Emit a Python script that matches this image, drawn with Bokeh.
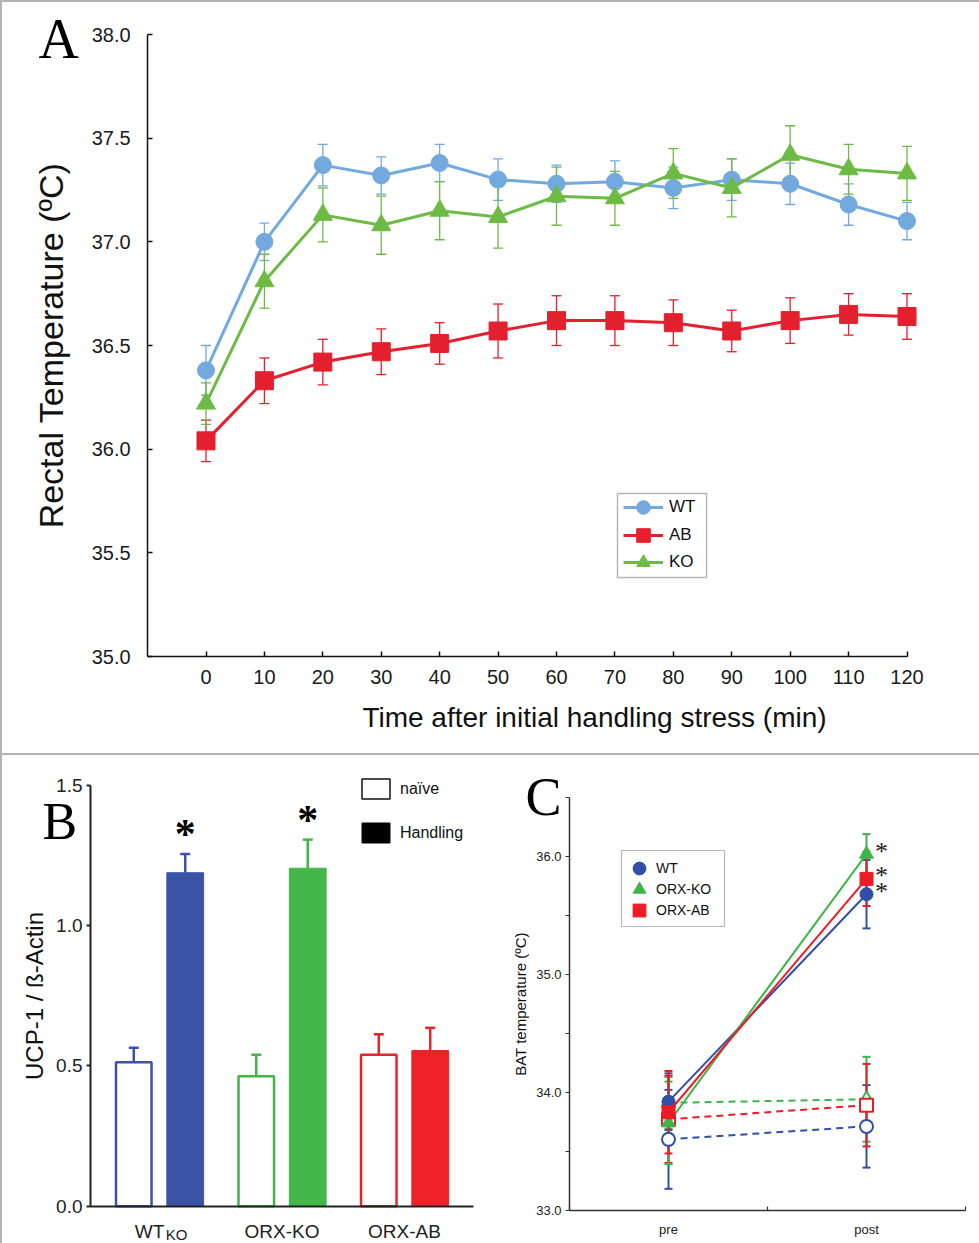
import numpy as np
from bokeh.plotting import figure
from bokeh.layouts import column, row
from bokeh.models import (Range1d, FixedTicker, NumeralTickFormatter, Whisker, TeeHead,
                          ColumnDataSource, Legend, LegendItem, Label, BoxAnnotation)
from bokeh.core.properties import value
from bokeh.embed import file_html
from bokeh.resources import INLINE

# ---------------- Panel A data ----------------
time_min = [0, 10, 20, 30, 40, 50, 60, 70, 80, 90, 100, 110, 120]
a_yticks = [35.0, 35.5, 36.0, 36.5, 37.0, 37.5, 38.0]
wt_temp = [36.38, 37.00, 37.37, 37.32, 37.38, 37.30, 37.28, 37.29, 37.26, 37.30, 37.28, 37.18, 37.10]
wt_err = [0.12, 0.09, 0.10, 0.09, 0.09, 0.10, 0.09, 0.10, 0.10, 0.10, 0.10, 0.10, 0.09]
ab_temp = [36.04, 36.33, 36.42, 36.47, 36.51, 36.57, 36.62, 36.62, 36.61, 36.57, 36.62, 36.65, 36.64]
ab_err = [0.10, 0.11, 0.11, 0.11, 0.10, 0.13, 0.12, 0.12, 0.11, 0.10, 0.11, 0.10, 0.11]
ko_temp = [36.22, 36.81, 37.13, 37.08, 37.15, 37.12, 37.22, 37.21, 37.33, 37.26, 37.42, 37.35, 37.33]
ko_err = [0.10, 0.13, 0.13, 0.14, 0.14, 0.15, 0.14, 0.13, 0.12, 0.14, 0.14, 0.12, 0.13]
a_names = ["WT", "AB", "KO"]

# ---------------- Panel B data ----------------
b_groups = ["WT", "ORX-KO", "ORX-AB"]
b_subs = ["KO", "", ""]
b_naive = [0.513, 0.463, 0.540]
b_naive_err = [0.052, 0.077, 0.073]
b_handling = [1.189, 1.205, 0.555]
b_handling_err = [0.067, 0.102, 0.081]
b_sig = ["*", "*", ""]
b_yticks = [0.0, 0.5, 1.0, 1.5]

# ---------------- Panel C data ----------------
c_groups = ["WT", "ORX-KO", "ORX-AB"]
c_phases = ["pre", "post"]
c_hand_pre = [33.92, 33.74, 33.83]
c_hand_pre_err = [0.24, 0.35, 0.35]
c_hand_post = [35.68, 36.02, 35.81]
c_hand_post_err = [0.29, 0.17, 0.23]
c_naive_pre = [33.60, 33.91, 33.77]
c_naive_pre_err = [0.42, 0.22, 0.37]
c_naive_post = [33.71, 33.94, 33.89]
c_naive_post_err = [0.35, 0.36, 0.35]
c_sig = ["*", "*", "*"]
c_ymajor = [33.0, 34.0, 35.0, 36.0]
c_yminor = [33.5, 34.5, 35.5, 36.5]

SANS = "Liberation Sans"
SERIF = "Liberation Serif"
BORDER = "#b4b4b4"


def span_range(v0, p0, v1, p1, size, from_top=False):
    """Range covering the whole canvas, given two value/pixel anchor pairs."""
    k = (v1 - v0) / (p1 - p0)
    a = v0 - p0 * k
    b = v0 + (size - p0) * k
    return Range1d(b, a) if from_top else Range1d(a, b)


def base_fig(w, h, xr, yr):
    p = figure(width=w, height=h, x_range=xr, y_range=yr, output_backend="svg",
               toolbar_location=None, min_border=0,
               background_fill_color=None, border_fill_color=None)
    p.grid.visible = False
    p.outline_line_color = None
    return p


# ======================= Panel A =======================
WA, HA = 979, 755
pA = base_fig(WA, HA, span_range(0, 205.5, 120, 906.5, WA),
              span_range(38, 34, 35, 656, HA, from_top=True))
pA.styles = {"box-shadow": f"inset 2px 2px 0 0 {BORDER}, inset 0 -2px 0 0 {BORDER}"}
for ax in (pA.xaxis[0], pA.yaxis[0]):
    ax.axis_line_color = "#111111"
    ax.axis_line_width = 1.5
    ax.major_tick_line_color = "#111111"
    ax.major_tick_line_width = 1.5
    ax.major_tick_in = 5
    ax.major_tick_out = 0
    ax.minor_tick_line_color = None
    ax.major_label_text_font = SANS
    ax.major_label_text_font_size = "20px"
    ax.major_label_text_color = "#1a1a1a"
pA.xaxis.fixed_location = 35
pA.xaxis.bounds = (-10, 120)
pA.xaxis.ticker = FixedTicker(ticks=time_min)
pA.xaxis.major_label_standoff = 13
pA.yaxis.fixed_location = -10
pA.yaxis.bounds = (35, 38)
pA.yaxis.ticker = FixedTicker(ticks=a_yticks)
pA.yaxis.formatter = NumeralTickFormatter(format="0.0")
pA.yaxis.major_label_standoff = 17
pA.yaxis.axis_label = "Rectal Temperature (ºC)"
pA.yaxis.axis_label_text_font = SANS
pA.yaxis.axis_label_text_font_style = "normal"
pA.yaxis.axis_label_text_font_size = "34px"
pA.yaxis.axis_label_text_color = "#111111"
pA.yaxis.axis_label_standoff = 19

a_series = [
    (wt_temp, wt_err, "#72a9de", "circle", 17),
    (ab_temp, ab_err, "#e5202e", "square", 18),
    (ko_temp, ko_err, "#6dbb45", "triangle", 19),
]
legA_items = []
for name, (yv, ev, col, mk, sz) in zip(a_names, a_series):
    src = ColumnDataSource(dict(x=time_min, y=yv,
                                upper=[a + b for a, b in zip(yv, ev)],
                                lower=[a - b for a, b in zip(yv, ev)]))
    pA.add_layout(Whisker(source=src, base="x", upper="upper", lower="lower",
                          line_color=col, line_width=1.3, level="underlay",
                          upper_head=TeeHead(size=10, line_color=col, line_width=1.3),
                          lower_head=TeeHead(size=10, line_color=col, line_width=1.3)))
    ln = pA.line("x", "y", source=src, line_color=col, line_width=3)
    sc = pA.scatter("x", "y", source=src, marker=mk, size=sz, fill_color=col, line_color=col)
    legA_items.append(LegendItem(label=name, renderers=[ln, sc]))

# legend frame + one legend per entry (keeps markers large with tight rows)
pA.add_layout(BoxAnnotation(left=617, right=706, top=HA - 493, bottom=HA - 577,
                            left_units="screen", right_units="screen",
                            top_units="screen", bottom_units="screen",
                            fill_color="white", fill_alpha=1.0,
                            line_color="#111111", line_width=1.5))
for item, cy in zip(legA_items, [507, 535, 562]):
    pA.add_layout(Legend(items=[item], location=(623, HA - cy - 17),
                         padding=0, margin=0, glyph_width=40, glyph_height=34,
                         label_height=34, label_standoff=6, border_line_color=None,
                         background_fill_alpha=0, label_text_font=SANS,
                         label_text_font_size="17px", label_text_color="#111111"))

pA.add_layout(Label(x=594, y=HA - 717, x_units="screen", y_units="screen",
                    text="Time after initial handling stress (min)",
                    text_align="center", text_baseline="middle",
                    text_font=SANS, text_font_size="28px", text_color="#111111"))
pA.add_layout(Label(x=38, y=HA - 38, x_units="screen", y_units="screen", text="A",
                    text_align="left", text_baseline="middle",
                    text_font=SERIF, text_font_size="56px", text_color="black"))

# ======================= Panel B =======================
WB, HB = 500, 488
b_colors = ["#3a53a4", "#42b649", "#ec2227"]
xg = np.arange(len(b_groups), dtype=float)
naive_x = xg - 0.21
hand_x = xg + 0.21
b_left = (90 - 159) / 122.5
b_right = (473 - 159) / 122.5

pB = base_fig(WB, HB, span_range(0, 159, 1, 281.5, WB),
              span_range(1.5, 30, 0, 450.7, HB, from_top=True))
pB.styles = {"box-shadow": f"inset 2px 0 0 0 {BORDER}"}
for ax in (pB.xaxis[0], pB.yaxis[0]):
    ax.axis_line_color = "#222222"
    ax.axis_line_width = 2
    ax.minor_tick_line_color = None
pB.xaxis.fixed_location = 0
pB.xaxis.bounds = (b_left, b_right)
pB.xaxis.ticker = FixedTicker(ticks=[])
pB.xaxis.major_tick_out = 0
pB.xaxis.major_tick_in = 0
pB.yaxis.fixed_location = b_left
pB.yaxis.bounds = (0, 1.5)
pB.yaxis.ticker = FixedTicker(ticks=b_yticks)
pB.yaxis.formatter = NumeralTickFormatter(format="0.0")
pB.yaxis.major_tick_in = 0
pB.yaxis.major_tick_out = 4
pB.yaxis.major_tick_line_width = 2
pB.yaxis.major_tick_line_color = "#222222"
pB.yaxis.major_label_standoff = 4
pB.yaxis.major_label_text_font = SANS
pB.yaxis.major_label_text_font_size = "19px"
pB.yaxis.major_label_text_color = "#222222"
pB.yaxis.axis_label = "UCP-1 / ß-Actin"
pB.yaxis.axis_label_text_font = SANS
pB.yaxis.axis_label_text_font_style = "normal"
pB.yaxis.axis_label_text_font_size = "24px"
pB.yaxis.axis_label_text_color = "#111111"
pB.yaxis.axis_label_standoff = 5

srcB = ColumnDataSource(dict(
    nx=naive_x, hx=hand_x, naive=b_naive, hand=b_handling, color=b_colors,
    nup=[a + b for a, b in zip(b_naive, b_naive_err)],
    hup=[a + b for a, b in zip(b_handling, b_handling_err)],
))
pB.vbar(x="nx", top="naive", bottom=0, width=0.29, source=srcB,
        fill_color="white", line_color="color", line_width=2.5)
pB.vbar(x="hx", top="hand", bottom=0, width=0.30, source=srcB,
        fill_color="color", line_color="color", line_width=1)
for base, lo, hi in (("nx", "naive", "nup"), ("hx", "hand", "hup")):
    pB.add_layout(Whisker(source=srcB, base=base, lower=lo, upper=hi,
                          line_color={"field": "color"}, line_width=2.5,
                          lower_head=None,
                          upper_head=TeeHead(size=10, line_color={"field": "color"}, line_width=2.5)))

srcBs = ColumnDataSource(dict(x=hand_x, y=srcB.data["hup"], t=b_sig))
pB.text(x="x", y="y", text="t", source=srcBs, text_align="center", text_baseline="middle",
        y_offset=-20, text_font=value(SERIF), text_font_style="bold", text_font_size="42px",
        text_color="black")

# category labels below the baseline (WT carries a "KO" subscript)
srcBl = ColumnDataSource(dict(x=xg, y=[0.0] * len(xg), t=b_groups,
                              dx=[-10 if s else 0 for s in b_subs]))
pB.text(x="x", y="y", text="t", source=srcBl, x_offset="dx", y_offset=25,
        text_align="center", text_baseline="alphabetic", text_font=value(SANS),
        text_font_size="19px", text_color="#222222")
sub_idx = [i for i, s in enumerate(b_subs) if s]
srcBsub = ColumnDataSource(dict(x=[xg[i] for i in sub_idx], y=[0.0] * len(sub_idx),
                                t=[b_subs[i] for i in sub_idx]))
pB.text(x="x", y="y", text="t", source=srcBsub, x_offset=17, y_offset=28,
        text_align="center", text_baseline="alphabetic", text_font=value(SANS),
        text_font_size="15px", text_color="#222222")

r_naive_proxy = pB.vbar(x=[np.nan], top=[np.nan], width=0.3, fill_color="white",
                        line_color="#111111", line_width=1.5)
r_hand_proxy = pB.vbar(x=[np.nan], top=[np.nan], width=0.3, fill_color="black",
                       line_color="black")
pB.add_layout(Legend(items=[LegendItem(label="naïve", renderers=[r_naive_proxy]),
                            LegendItem(label="Handling", renderers=[r_hand_proxy])],
                     location=(358, HB - (845 - 755)), glyph_width=35, glyph_height=25,
                     label_height=25, spacing=19, padding=0, margin=0,
                     border_line_color=None, background_fill_alpha=0, label_standoff=7,
                     label_text_font=SANS, label_text_font_size="16px",
                     label_text_color="#111111"))

pB.add_layout(Label(x=42, y=HB - (821 - 755), x_units="screen", y_units="screen", text="B",
                    text_align="left", text_baseline="middle",
                    text_font=SERIF, text_font_size="52px", text_color="black"))

# ======================= Panel C =======================
WC, HC = 479, 488
c_colors = ["#3050a8", "#3cb54a", "#ed1c24"]
c_markers = ["circle", "triangle", "square"]
c_sizes = [13, 14, 13]
phase_x = [1, 3]

pC = base_fig(WC, HC, span_range(1, 168, 3, 366, WC),
              span_range(36, 101, 34, 336.7, HC, from_top=True))
for ax in (pC.xaxis[0], pC.yaxis[0]):
    ax.axis_line_color = "#333333"
    ax.axis_line_width = 1.5
    ax.major_tick_line_color = "#333333"
    ax.minor_tick_line_color = "#333333"
    ax.major_tick_line_width = 1.2
    ax.minor_tick_line_width = 1.2
    ax.major_label_text_font = SANS
    ax.major_label_text_font_size = "13px"
    ax.major_label_text_color = "#222222"
pC.yaxis.fixed_location = 0
pC.yaxis.bounds = (33, 36.5)
pC.yaxis.ticker = FixedTicker(ticks=c_ymajor, minor_ticks=c_yminor)
pC.yaxis.formatter = NumeralTickFormatter(format="0.0")
pC.yaxis.major_tick_in = 0
pC.yaxis.major_tick_out = 4
pC.yaxis.minor_tick_in = 0
pC.yaxis.minor_tick_out = 4
pC.yaxis.major_label_standoff = 4
pC.yaxis.axis_label = "BAT temperature (ºC)"
pC.yaxis.axis_label_text_font = SANS
pC.yaxis.axis_label_text_font_style = "normal"
pC.yaxis.axis_label_text_font_size = "15px"
pC.yaxis.axis_label_text_color = "#111111"
pC.yaxis.axis_label_standoff = 4
pC.xaxis.fixed_location = 33
pC.xaxis.bounds = (0, 4)
pC.xaxis.ticker = FixedTicker(ticks=phase_x, minor_ticks=[0, 2, 4])
pC.xaxis.major_label_overrides = {phase_x[0]: c_phases[0], phase_x[1]: c_phases[1]}
pC.xaxis.major_tick_in = 0
pC.xaxis.major_tick_out = 0
pC.xaxis.minor_tick_in = 4
pC.xaxis.minor_tick_out = 0
pC.xaxis.major_label_standoff = 12

legC_items = []
# naive (dashed, open markers)
for i in range(len(c_groups)):
    col = c_colors[i]
    y = [c_naive_pre[i], c_naive_post[i]]
    e = [c_naive_pre_err[i], c_naive_post_err[i]]
    src = ColumnDataSource(dict(x=phase_x, y=y, upper=[a + b for a, b in zip(y, e)],
                                lower=[a - b for a, b in zip(y, e)]))
    pC.add_layout(Whisker(source=src, base="x", upper="upper", lower="lower",
                          line_color=col, line_width=2, level="underlay",
                          upper_head=TeeHead(size=8, line_color=col, line_width=2),
                          lower_head=TeeHead(size=8, line_color=col, line_width=2)))
    pC.line("x", "y", source=src, line_color=col, line_width=2, line_dash="7 5")
    pC.scatter("x", "y", source=src, marker=c_markers[i], size=c_sizes[i],
               fill_color="white", line_color=col, line_width=2)
# handling (solid, filled markers)
for i in range(len(c_groups)):
    col = c_colors[i]
    y = [c_hand_pre[i], c_hand_post[i]]
    e = [c_hand_pre_err[i], c_hand_post_err[i]]
    src = ColumnDataSource(dict(x=phase_x, y=y, upper=[a + b for a, b in zip(y, e)],
                                lower=[a - b for a, b in zip(y, e)]))
    pC.add_layout(Whisker(source=src, base="x", upper="upper", lower="lower",
                          line_color=col, line_width=2, level="underlay",
                          upper_head=TeeHead(size=8, line_color=col, line_width=2),
                          lower_head=TeeHead(size=8, line_color=col, line_width=2)))
    pC.line("x", "y", source=src, line_color=col, line_width=2)
    sc = pC.scatter("x", "y", source=src, marker=c_markers[i], size=c_sizes[i],
                    fill_color=col, line_color=col)
    legC_items.append(LegendItem(label=c_groups[i], renderers=[sc]))

srcCs = ColumnDataSource(dict(x=[phase_x[1]] * len(c_groups), y=c_hand_post, t=c_sig))
pC.text(x="x", y="y", text="t", source=srcCs, text_align="center", text_baseline="middle",
        x_offset=15, y_offset=-3, text_font=value(SERIF), text_font_size="26px",
        text_color="#222222")

OX, OY = 500, 755  # panel C origin on the page
pC.add_layout(BoxAnnotation(left=621 - OX, right=724 - OX, top=HC - (850 - OY),
                            bottom=HC - (926 - OY),
                            left_units="screen", right_units="screen",
                            top_units="screen", bottom_units="screen",
                            fill_color="white", fill_alpha=1.0,
                            line_color="#111111", line_width=1.2))
for item, cy in zip(legC_items, [868, 889, 910]):
    pC.add_layout(Legend(items=[item], location=(623 - OX, HC - (cy - OY) - 16),
                         padding=0, margin=0, glyph_width=32, glyph_height=32,
                         label_height=32, label_standoff=1, border_line_color=None,
                         background_fill_alpha=0, label_text_font=SANS,
                         label_text_font_size="14px", label_text_color="#111111"))

pC.add_layout(Label(x=525 - OX, y=HC - (796 - OY), x_units="screen", y_units="screen",
                    text="C", text_align="left", text_baseline="middle",
                    text_font=SERIF, text_font_size="54px", text_color="black"))

layout = column(pA, row(pB, pC, spacing=0), spacing=0)
open("out.html", "w").write(file_html(layout, INLINE))
